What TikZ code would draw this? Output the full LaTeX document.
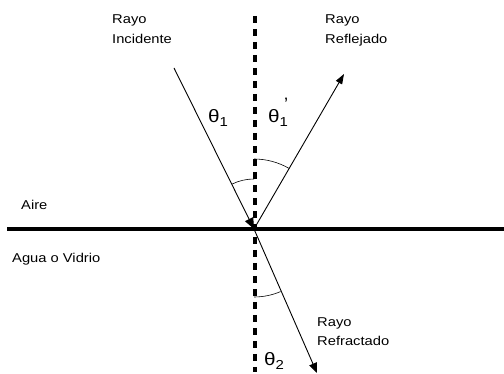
\documentclass[tikz,border=0pt]{standalone}
\usepackage{fontspec}
\setmainfont{Liberation Sans}
\newfontfamily\lblfont[FakeStretch=1.15]{Liberation Sans}
\usetikzlibrary{arrows.meta}
\newcommand{\thsub}[1]{{\fontsize{18}{18}\selectfont θ}\raisebox{-4pt}{\fontsize{13}{13}\selectfont #1}}
\begin{document}
\begin{tikzpicture}[x=1pt,y=1pt,
  lbl/.style={font=\lblfont\fontsize{12.8}{20}\selectfont, align=left, inner sep=0pt, anchor=north west},
  ray/.style={line width=0.9pt},
  anglearc/.style={line width=0.6pt},
  anglelbl/.style={inner sep=0pt, font=\lblfont}]
\useasboundingbox (0,0) rectangle (504,374);
\fill[white] (0,0) rectangle (504,374);
\coordinate (O) at (254,145);
\coordinate (I) at (174,306);
\coordinate (R) at (344,300);
\coordinate (T) at (317,1);
\coordinate (Ntop) at (255,358);
\coordinate (Nbot) at (255,2);
\coordinate (Lw) at (7,145);
\coordinate (Le) at (504,145);
% interface
\draw[line width=3.5pt] (Lw) -- (Le);
% normal
\draw[line width=4pt, dash pattern=on 7pt off 6pt] (Ntop) -- (Nbot);
% rays
\draw[ray, -{Triangle[length=11pt,width=9pt]}] (I) -- (O);
\draw[ray, -{Triangle[length=10pt,width=7pt]}] (O) -- (R);
\draw[ray, -{Triangle[length=10pt,width=8pt]}] (O) -- (T);
% angle arcs
\draw[anglearc] ([shift={(90:50pt)}]O) arc[start angle=90, end angle=116, radius=50pt];
\draw[anglearc] ([shift={(90:70pt)}]O) arc[start angle=90, end angle=60, radius=70pt];
\draw[anglearc] ([shift={(270:68pt)}]O) arc[start angle=270, end angle=293, radius=68pt];
% labels
\node[lbl] (inc) at (112,359) {Rayo\\Incidente};
\node[lbl] (ref) at (325,359) {Rayo\\Reflejado};
\node[lbl] (refr) at (317,57) {Rayo\\Refractado};
\node[lbl] (aire) at (21,174) {Aire};
\node[lbl] (agua) at (12,121) {Agua o Vidrio};
\node[anglelbl] (t1) at (218,256) {\thsub{1}};
\node[anglelbl] (t1p) at (278,256) {\thsub{1}};
\node[anglelbl, font=\fontsize{18}{18}\selectfont] (prime) at (286,270) {’};
\node[anglelbl] (t2) at (274,13) {\thsub{2}};
\end{tikzpicture}
\end{document}
